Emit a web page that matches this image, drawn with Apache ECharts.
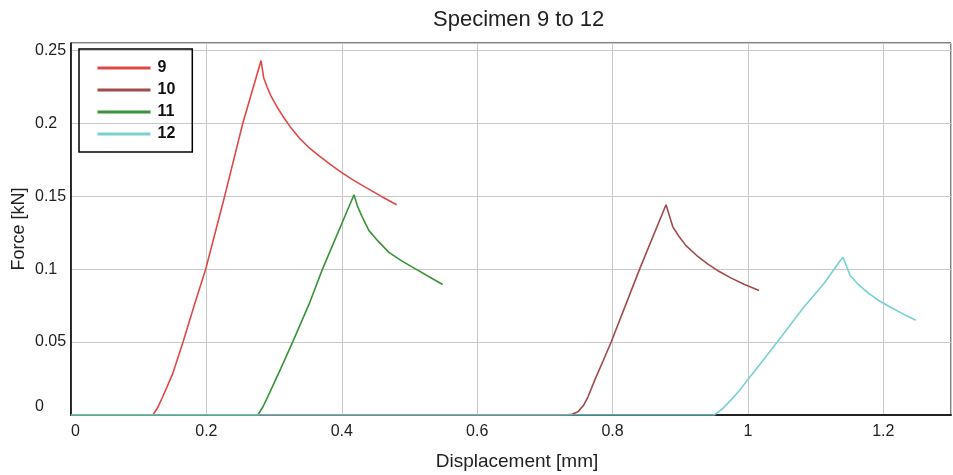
<!DOCTYPE html>
<html>
<head>
<meta charset="utf-8">
<script src="https://cdn.jsdelivr.net/npm/echarts@6/dist/echarts.min.js"></script>
<style>html,body{margin:0;padding:0;background:#fff;}#c{width:953px;height:475px;}</style>
</head>
<body>
<div id="c"></div>
<script>
const seriesNames = ['9', '10', '11', '12'];
const s9x = [0, 0.121, 0.128, 0.135, 0.150, 0.1655, 0.182, 0.199, 0.227, 0.2538, 0.2808, 0.2847, 0.2900, 0.2955, 0.304, 0.3127, 0.324, 0.337, 0.351, 0.3666, 0.383, 0.400, 0.417, 0.4353, 0.458, 0.481];
const s9y = [0, 0, 0.005, 0.012, 0.028, 0.050, 0.075, 0.100, 0.150, 0.200, 0.243, 0.231, 0.2245, 0.2186, 0.2115, 0.205, 0.1975, 0.190, 0.1835, 0.1776, 0.1718, 0.1662, 0.161, 0.156, 0.150, 0.1441];
const s10x = [0, 0.730, 0.740, 0.749, 0.757, 0.7638, 0.7737, 0.786, 0.798, 0.840, 0.879, 0.889, 0.898, 0.9085, 0.924, 0.9404, 0.957, 0.9747, 0.995, 1.0165];
const s10y = [0, 0, 0.0005, 0.0023, 0.0065, 0.0125, 0.0239, 0.037, 0.050, 0.100, 0.1441, 0.129, 0.1225, 0.1161, 0.1095, 0.1036, 0.0985, 0.094, 0.0895, 0.0854];
const s11x = [0, 0.276, 0.284, 0.293, 0.310, 0.3274, 0.352, 0.3715, 0.4181, 0.423, 0.430, 0.4402, 0.454, 0.4696, 0.489, 0.5089, 0.529, 0.549];
const s11y = [0, 0, 0.006, 0.0148, 0.032, 0.050, 0.0763, 0.100, 0.151, 0.1434, 0.136, 0.1264, 0.119, 0.1115, 0.1055, 0.1002, 0.0948, 0.0895];
const s12x = [0, 0.950, 0.962, 0.9747, 0.987, 0.9993, 1.0434, 1.0827, 1.1121, 1.1365, 1.1405, 1.151, 1.163, 1.178, 1.193, 1.2101, 1.229, 1.248];
const s12y = [0, 0, 0.004, 0.0102, 0.0165, 0.0239, 0.050, 0.074, 0.090, 0.1059, 0.1081, 0.0956, 0.0895, 0.0835, 0.0785, 0.074, 0.0693, 0.0649];
const colors = ['#e04848', '#a24a4c', '#3a923a', '#78d0d3'];

const xs = [s9x, s10x, s11x, s12x];
const ys = [s9y, s10y, s11y, s12y];
const FONT = "'Liberation Sans', Arial, sans-serif";

const chart = echarts.init(document.getElementById('c'), null, {renderer: 'canvas'});
chart.setOption({
  animation: false,
  backgroundColor: '#fff',
  title: {
    text: 'Specimen 9 to 12',
    left: 428, top: 4,
    textStyle: {fontFamily: FONT, fontSize: 22, fontWeight: 'normal', color: '#222'}
  },
  legend: {
    orient: 'vertical',
    left: 79, top: 49,
    padding: [11, 17, 10, 17],
    borderColor: '#000', borderWidth: 1.5,
    itemWidth: 53, itemHeight: 14, itemGap: 6,
    lineStyle: {width: 3},
    itemStyle: {opacity: 0},
    data: seriesNames,
    textStyle: {fontFamily: FONT, fontSize: 16, fontWeight: 'bold', color: '#111', padding: [0, 0, 0, 2]}
  },
  grid: {
    left: 71, right: 2, top: 43, bottom: 60,
    containLabel: false, outerBoundsMode: 'none',
    show: true, borderColor: '#000', borderWidth: 1
  },
  xAxis: {
    type: 'value', min: 0, max: 1.3, interval: 0.2,
    name: 'Displacement [mm]', nameLocation: 'middle', nameGap: 37,
    nameMoveOverlap: false,
    nameTextStyle: {fontFamily: FONT, fontSize: 19, color: '#222', padding: [0, 0, 0, 12]},
    axisLine: {show: true, onZero: false, lineStyle: {color: '#222', width: 2}},
    axisTick: {show: false},
    axisLabel: {fontFamily: FONT, fontSize: 16, color: '#222', margin: 9, showMaxLabel: false, alignMinLabel: 'left'},
    splitLine: {show: true, lineStyle: {color: '#c8c8c8', width: 1}}
  },
  yAxis: {
    type: 'value', min: 0, max: 0.255, interval: 0.05,
    name: 'Force [kN]', nameLocation: 'middle', nameGap: 43,
    nameMoveOverlap: false,
    nameTextStyle: {fontFamily: FONT, fontSize: 18, color: '#222'},
    axisLine: {show: true, onZero: false, lineStyle: {color: '#000', width: 1.5}},
    axisTick: {show: false},
    axisLabel: {fontFamily: FONT, fontSize: 16, color: '#222', margin: 36, align: 'left', showMaxLabel: false, verticalAlignMinLabel: 'bottom'},
    splitLine: {show: true, lineStyle: {color: '#c8c8c8', width: 1}}
  },
  series: seriesNames.map((n, i) => ({
    name: n,
    type: 'line',
    symbol: 'none',
    color: colors[i],
    lineStyle: {width: 1.6, color: colors[i]},
    data: xs[i].map((x, j) => [x, ys[i][j]])
  }))
});
</script>
</body>
</html>
